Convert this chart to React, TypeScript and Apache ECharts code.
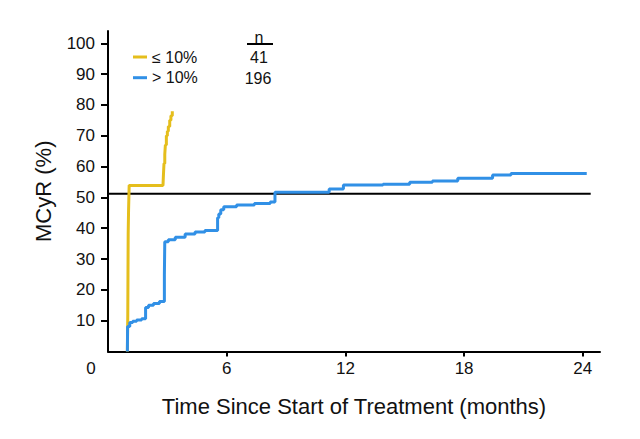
import React, { useEffect, useRef } from "react";
import * as echarts from "echarts";

const seriesNames = ["≤ 10%", "> 10%"];
const seriesCounts = ["41", "196"];
const xTicks = [6, 12, 18, 24];
const yTicks = [10, 20, 30, 40, 50, 60, 70, 80, 90, 100];
const referenceLevel = 51.2;
const referenceEnd = 24.4;

const lowGroup: [number, number][] = [
  [0.98, 0], [1.0, 12], [1.01, 25], [1.02, 38], [1.04, 46], [1.07, 53.9],
  [2.78, 53.9], [2.8, 57], [2.83, 61], [2.87, 64], [2.9, 67], [2.95, 70],
  [3.0, 71.5], [3.05, 73], [3.12, 75], [3.18, 76.5], [3.25, 78],
];

const highGroup: [number, number][] = [
  [0.98, 0], [0.99, 8.1], [1.1, 9.4], [1.25, 9.8], [1.45, 10.2], [1.7, 10.6],
  [1.9, 14.3], [2.05, 15.0], [2.3, 15.6], [2.6, 16.2], [2.85, 25], [2.87, 35.6],
  [3.05, 36.3], [3.4, 37.1], [3.9, 38.1], [4.4, 38.8], [4.9, 39.3],
  [5.54, 43.4], [5.6, 44.6], [5.7, 46.0], [5.85, 47.0], [6.5, 47.5], [7.4, 48.0],
  [8.2, 48.5], [8.44, 51.7], [11.18, 52.7], [11.9, 54.0], [13.9, 54.3],
  [15.25, 54.9], [16.4, 55.3], [17.68, 56.2], [19.44, 57.3], [20.37, 57.8], [24.2, 57.8],
];

const colors = ["#E5BE1C", "#3190E6"];
const FONT = "Liberation Sans";

export default function App() {
  const ref = useRef<HTMLDivElement>(null);
  useEffect(() => {
    if (!ref.current) return;
    const chart = echarts.init(ref.current, null, { renderer: "svg" });
    const axisLine = { show: true, lineStyle: { color: "#000", width: 2 } };
    chart.setOption({
      animation: false,
      backgroundColor: "#fff",
      grid: { left: 108, right: 40, top: 31, bottom: 87.5 },
      legend: {
        data: seriesNames,
        orient: "vertical",
        left: 133,
        top: 47,
        padding: 0,
        itemGap: 0.7,
        itemWidth: 14,
        itemHeight: 3,
        icon: "rect",
        textStyle: { fontFamily: FONT, fontSize: 16, color: "#111", lineHeight: 20 },
      },
      xAxis: {
        type: "value",
        min: 0,
        max: 24.87,
        axisLine,
        splitLine: { show: false },
        axisTick: { show: true, customValues: xTicks, length: 5, lineStyle: { color: "#000", width: 2 } },
        axisLabel: {
          customValues: xTicks,
          margin: 8,
          fontFamily: FONT,
          fontSize: 17,
          color: "#111",
        },
        name: "Time Since Start of Treatment (months)",
        nameLocation: "middle",
        nameGap: 44,
        nameTextStyle: { fontFamily: FONT, fontSize: 22, color: "#111" },
      },
      yAxis: {
        type: "value",
        min: 0,
        max: 104,
        axisLine,
        splitLine: { show: false },
        axisTick: { show: true, customValues: yTicks, length: 7, lineStyle: { color: "#000", width: 2 } },
        axisLabel: {
          customValues: yTicks,
          margin: 13,
          fontFamily: FONT,
          fontSize: 17,
          color: "#111",
        },
        name: "MCyR (%)",
        nameLocation: "middle",
        nameGap: 54,
        nameTextStyle: { fontFamily: FONT, fontSize: 22, color: "#111" },
      },
      graphic: [
        { type: "text", x: 91, y: 368, style: { text: "0", font: `17px '${FONT}'`, fill: "#111", align: "center", verticalAlign: "middle" } },
        { type: "text", x: 259, y: 37, style: { text: "n", font: `16px '${FONT}'`, fill: "#111", align: "center", verticalAlign: "middle" } },
        { type: "line", shape: { x1: 247, y1: 44, x2: 273, y2: 44 }, style: { stroke: "#000", lineWidth: 2 } },
        { type: "text", x: 259, y: 57.5, style: { text: seriesCounts[0], font: `16px '${FONT}'`, fill: "#111", align: "center", verticalAlign: "middle" } },
        { type: "text", x: 258, y: 78, style: { text: seriesCounts[1], font: `16px '${FONT}'`, fill: "#111", align: "center", verticalAlign: "middle" } },
      ],
      series: [
        {
          type: "line",
          name: "reference",
          data: [[0, referenceLevel], [referenceEnd, referenceLevel]],
          showSymbol: false,
          silent: true,
          lineStyle: { color: "#000", width: 2 },
          z: 1,
        },
        {
          type: "line",
          name: seriesNames[0],
          data: lowGroup,
          step: "end",
          showSymbol: false,
          color: colors[0],
          lineStyle: { color: colors[0], width: 3 },
          z: 2,
        },
        {
          type: "line",
          name: seriesNames[1],
          data: highGroup,
          step: "end",
          showSymbol: false,
          color: colors[1],
          lineStyle: { color: colors[1], width: 3 },
          z: 3,
        },
      ],
    });
    return () => chart.dispose();
  }, []);
  return <div ref={ref} style={{ width: 640, height: 439, position: "absolute", left: 0, top: 0 }} />;
}
